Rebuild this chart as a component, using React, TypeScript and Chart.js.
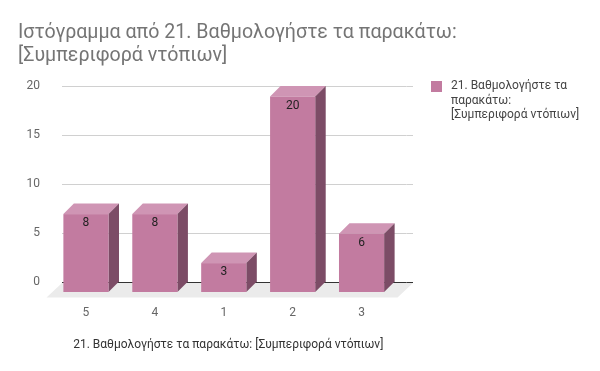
import { useEffect, useRef } from 'react';
import { Chart, registerables } from 'chart.js';

Chart.register(...registerables);

const categories = ['5', '4', '1', '2', '3'];
const counts = [8, 8, 3, 20, 6];
const seriesName = '21. Βαθμολογήστε τα παρακάτω: [Συμπεριφορά ντόπιων]';
const titleLines = ['Ιστόγραμμα από 21. Βαθμολογήστε τα παρακάτω:', '[Συμπεριφορά ντόπιων]'];
const legendLines = ['21. Βαθμολογήστε τα', 'παρακάτω:', '[Συμπεριφορά ντόπιων]'];
const xAxisTitle = '21. Βαθμολογήστε τα παρακάτω: [Συμπεριφορά ντόπιων]';
const yMin = 0;
const yMax = 20;
const yStep = 5;

const FRONT = '#c27ba0';
const TOP = '#cf95b4';
const SIDE = '#7c4c66';
const FLOOR_COLOR = '#ebebeb';
const GRID = '#d0d0d0';
const DEPTH = 10.5;
const FLOOR = 15.5;
const EXTRA = 6.5;
const FONT = 'Roboto';

const deco = {
  id: 'deco3d',
  beforeDatasetsDraw(chart: any) {
    const { ctx, chartArea } = chart;
    const ys = chart.scales.y;
    const y0 = ys.getPixelForValue(0);
    ctx.save();
    ys.ticks.forEach((t: any) => {
      const py = Math.round(ys.getPixelForValue(t.value)) + 0.5;
      ctx.strokeStyle = t.value === 0 ? '#333' : GRID;
      ctx.lineWidth = 1;
      ctx.beginPath();
      ctx.moveTo(chartArea.right, py);
      ctx.lineTo(chartArea.right + EXTRA, py);
      ctx.stroke();
    });
    ctx.fillStyle = FLOOR_COLOR;
    ctx.beginPath();
    ctx.moveTo(chartArea.left, y0 + 1);
    ctx.lineTo(chartArea.right + EXTRA, y0 + 1);
    ctx.lineTo(chartArea.right + EXTRA - FLOOR, y0 + FLOOR);
    ctx.lineTo(chartArea.left - FLOOR, y0 + FLOOR);
    ctx.closePath();
    ctx.fill();
    ctx.restore();
  },
  afterDatasetsDraw(chart: any) {
    const { ctx } = chart;
    const meta = chart.getDatasetMeta(0);
    ctx.save();
    meta.data.forEach((el: any, i: number) => {
      const { x, y, base, width } = el.getProps(['x', 'y', 'base', 'width'], true);
      const fl = x - width / 2 - DEPTH;
      const fr = x + width / 2 - DEPTH;
      const ft = y + DEPTH;
      const fb = base + DEPTH;
      ctx.fillStyle = TOP;
      ctx.beginPath();
      ctx.moveTo(fl, ft);
      ctx.lineTo(fr, ft);
      ctx.lineTo(fr + DEPTH, ft - DEPTH);
      ctx.lineTo(fl + DEPTH, ft - DEPTH);
      ctx.closePath();
      ctx.fill();
      ctx.fillStyle = SIDE;
      ctx.beginPath();
      ctx.moveTo(fr, ft);
      ctx.lineTo(fr + DEPTH, ft - DEPTH);
      ctx.lineTo(fr + DEPTH, fb - DEPTH);
      ctx.lineTo(fr, fb);
      ctx.closePath();
      ctx.fill();
      ctx.fillStyle = FRONT;
      ctx.fillRect(fl, ft, fr - fl, fb - ft);
      ctx.fillStyle = '#222';
      ctx.font = `12px ${FONT}`;
      ctx.textAlign = 'center';
      ctx.textBaseline = 'middle';
      ctx.fillText(String(counts[i]), (fl + fr) / 2, ft + 9);
    });
    ctx.restore();
  },
  afterDraw(chart: any) {
    const { ctx, chartArea } = chart;
    ctx.save();
    ctx.fillStyle = '#757575';
    ctx.font = `19.6px ${FONT}`;
    ctx.textAlign = 'left';
    ctx.textBaseline = 'middle';
    titleLines.forEach((t, i) => ctx.fillText(t, 18, 33 + i * 23));
    ctx.fillStyle = FRONT;
    ctx.fillRect(431, 81, 11, 11);
    ctx.fillStyle = '#444';
    ctx.font = `12px ${FONT}`;
    legendLines.forEach((t, i) => ctx.fillText(t, 451, 86 + i * 14.5));
    ctx.fillStyle = '#333';
    ctx.textAlign = 'center';
    ctx.fillText(xAxisTitle, (chartArea.left + chartArea.right) / 2 - 6, 345);
    ctx.restore();
  },
};

export default function App() {
  const ref = useRef<HTMLCanvasElement>(null);
  useEffect(() => {
    if (!ref.current) return;
    Chart.defaults.font.family = FONT;
    const chart = new Chart(ref.current, {
      type: 'bar',
      data: {
        labels: categories,
        datasets: [
          {
            label: seriesName,
            data: counts,
            backgroundColor: 'rgba(0,0,0,0)',
            borderWidth: 0,
            barPercentage: 0.655,
            categoryPercentage: 1,
          },
        ],
      },
      options: {
        animation: false,
        responsive: false,
        maintainAspectRatio: false,
        layout: { padding: { left: 18, right: 193.5, top: 86, bottom: 0 } },
        plugins: {
          legend: { display: false },
          title: { display: false },
          tooltip: { enabled: false },
        },
        scales: {
          x: {
            grid: { display: false, drawTicks: false },
            border: { display: false },
            ticks: { color: '#666', font: { size: 12 }, padding: 24, labelOffset: -DEPTH },
            afterFit: (s: any) => {
              s.height = 89;
            },
          },
          y: {
            min: yMin,
            max: yMax,
            grid: {
              drawTicks: false,
              color: (c: any) => (c.tick && c.tick.value === 0 ? '#333' : GRID),
            },
            border: { display: false },
            ticks: { stepSize: yStep, color: '#666', font: { size: 12 }, padding: 22 },
            afterFit: (s: any) => {
              s.width = 44;
            },
          },
        },
      },
      plugins: [deco],
    });
    return () => chart.destroy();
  }, []);
  return (
    <div style={{ position: 'fixed', left: 0, top: 0, width: 600, height: 371, background: '#fff' }}>
      <canvas ref={ref} width={600} height={371} style={{ width: 600, height: 371 }} />
    </div>
  );
}
